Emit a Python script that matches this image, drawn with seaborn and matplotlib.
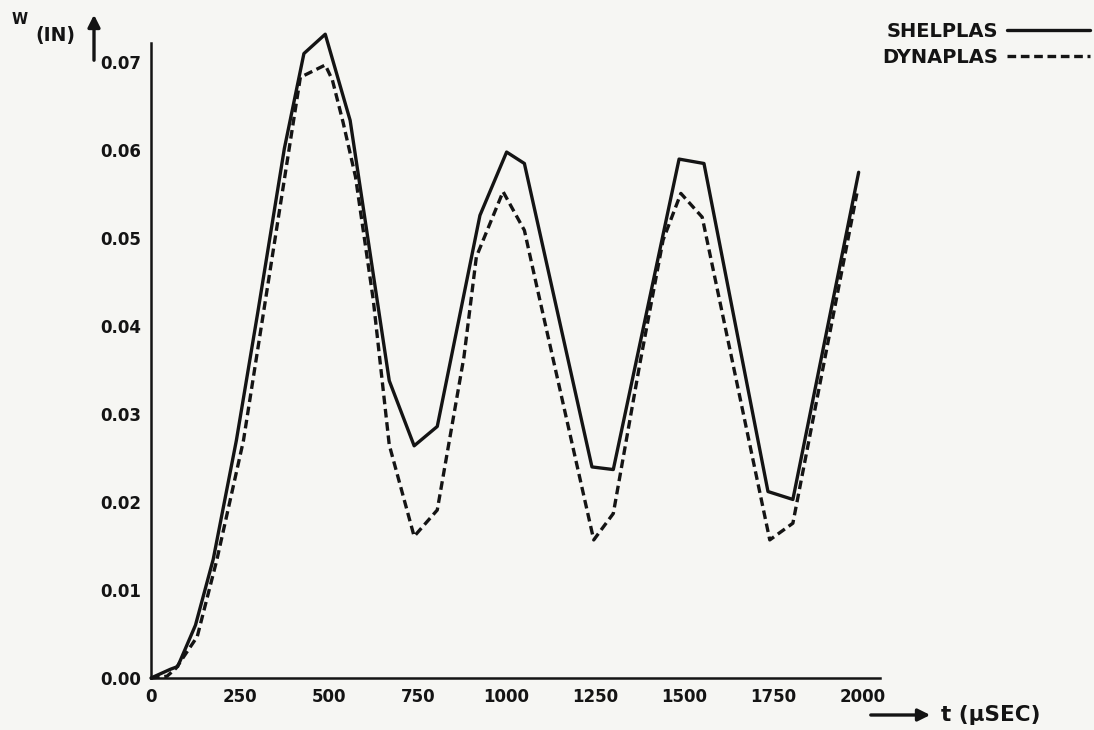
import numpy as np
import pandas as pd
import matplotlib
matplotlib.use("Agg")
from matplotlib import pyplot as plt
import seaborn as sns


# 读图得到的数据: t (µsec) 与 W (in)
shelplas_t = [0, 55, 75, 125, 175, 240, 300, 375, 430, 490, 560, 670, 740, 805,
              925, 1000, 1050, 1240, 1300, 1485, 1555, 1735, 1805, 1990]
shelplas_w = [0.0, 0.0010, 0.0013, 0.0060, 0.0135, 0.0270, 0.0415, 0.0602, 0.0710,
              0.0732, 0.0634, 0.0338, 0.0264, 0.0286, 0.0526, 0.0598, 0.0585,
              0.0240, 0.0237, 0.0590, 0.0585, 0.0212, 0.0203, 0.0575]

dynaplas_t = [0, 45, 70, 130, 185, 260, 420, 490, 510, 540, 575, 625, 670, 740,
              805, 880, 915, 990, 1050, 1085, 1245, 1300, 1375, 1440, 1490, 1550,
              1740, 1805, 1985]
dynaplas_w = [0.0, 0.0002, 0.0011, 0.0047, 0.0134, 0.0270, 0.0683, 0.0697, 0.0680,
              0.0632, 0.0570, 0.0430, 0.0265, 0.0161, 0.0191, 0.0365, 0.0479,
              0.0553, 0.0509, 0.0445, 0.0157, 0.0187, 0.0358, 0.0498, 0.0551,
              0.0524, 0.0157, 0.0176, 0.0551]

series_names = ["SHELPLAS", "DYNAPLAS"]
x_ticks = [0, 250, 500, 750, 1000, 1250, 1500, 1750, 2000]
y_ticks = [0.00, 0.01, 0.02, 0.03, 0.04, 0.05, 0.06, 0.07]
y_tick_labels = ["0.00", "0.01", "0.02", "0.03", "0.04", "0.05", "0.06", "0.07"]

ink = "#141414"
paper = "#f6f6f3"

sns.set_theme(style="white")
plt.rcParams["font.family"] = ["DejaVu Sans"]

df = pd.concat([
    pd.DataFrame({"t": shelplas_t, "w": shelplas_w, "series": series_names[0]}),
    pd.DataFrame({"t": dynaplas_t, "w": dynaplas_w, "series": series_names[1]}),
], ignore_index=True)

W, H = 1094, 730
fig = plt.figure(figsize=(W / 100, H / 100), dpi=100, facecolor=paper)
# 坐标轴位置按像素换算
ax = fig.add_axes([151 / W, 52 / H, 729 / W, 635 / H])
ax.set_facecolor(paper)

sns.lineplot(data=df, x="t", y="w", hue="series", style="series",
             palette={series_names[0]: ink, series_names[1]: ink},
             dashes={series_names[0]: "", series_names[1]: (2.6, 1.4)},
             linewidth=2.4, sort=False, estimator=None, ax=ax)
# 峰值超出y轴顶端, 不裁剪
for line in ax.get_lines():
    line.set_clip_on(False)

ax.set_xlim(0, 2050)
ax.set_ylim(0, 0.0722)
ax.set_xticks(x_ticks)
ax.set_xticklabels([str(v) for v in x_ticks])
ax.set_yticks(y_ticks)
ax.set_yticklabels(y_tick_labels)
ax.set_xlabel("")
ax.set_ylabel("")
for side in ["top", "right"]:
    ax.spines[side].set_visible(False)
for side in ["left", "bottom"]:
    ax.spines[side].set_color(ink)
    ax.spines[side].set_linewidth(1.8)
ax.tick_params(direction="in", length=6, width=1.6, color=ink, labelcolor=ink,
               labelsize=12, pad=7)
for lab in ax.get_xticklabels() + ax.get_yticklabels():
    lab.set_fontweight("bold")

# 图例: 文字在左, 线在右
handles = ax.get_lines()[:2]
ax.get_legend().remove()
fig.legend(handles, series_names, loc="upper right",
           bbox_to_anchor=(1100 / W, 1 - 12 / H), frameon=False,
           markerfirst=False, handlelength=4.3, handletextpad=0.45,
           labelspacing=0.35, borderpad=0,
           prop={"size": 14, "weight": "bold"}, labelcolor=ink)

# y轴标注 W (IN) 与向上箭头
fig.text(12 / W, 1 - 20 / H, "W", fontsize=10.5, fontweight="bold", color=ink,
         ha="left", va="center")
fig.text(35 / W, 1 - 36 / H, "(IN)", fontsize=13.5, fontweight="bold", color=ink,
         ha="left", va="center")
ax.annotate("", xy=(94 / W, 1 - 12 / H), xytext=(94 / W, 1 - 63 / H),
            xycoords="figure fraction", textcoords="figure fraction",
            arrowprops=dict(arrowstyle="-|>", color=ink, lw=2.4, mutation_scale=18))

# x轴标注 t (µSEC) 与向右箭头
ax.annotate("", xy=(933 / W, 1 - 715 / H), xytext=(868 / W, 1 - 715 / H),
            xycoords="figure fraction", textcoords="figure fraction",
            arrowprops=dict(arrowstyle="-|>", color=ink, lw=2.4, mutation_scale=18))
fig.text(941 / W, 1 - 715 / H, "t (\u03bcSEC)", fontsize=15.5, fontweight="bold",
         color=ink, ha="left", va="center")

fig.savefig("out.png", dpi=100, facecolor=paper)
